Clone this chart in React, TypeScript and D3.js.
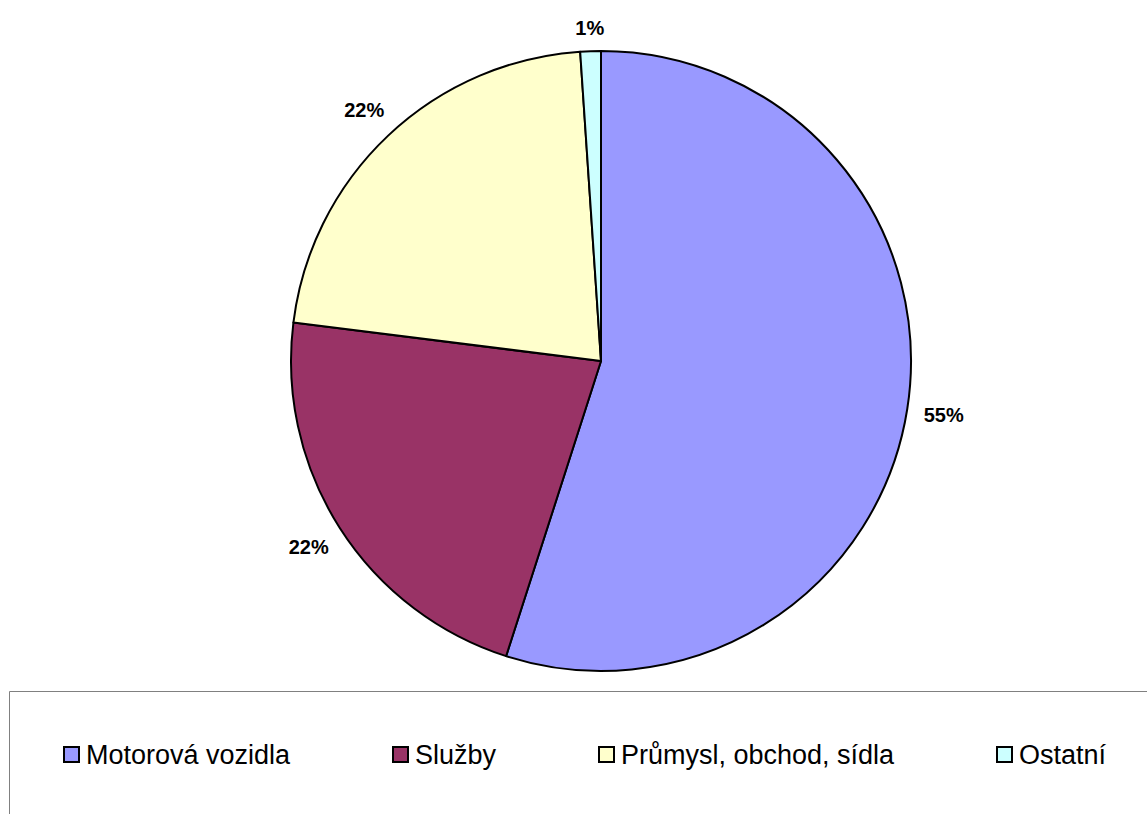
import React from "react";
import * as d3 from "d3";

const categories = ["Motorová vozidla", "Služby", "Průmysl, obchod, sídla", "Ostatní"];
const values = [54.95, 22.03, 21.95, 1.07];
const colors = ["#9999FF", "#993366", "#FFFFCC", "#CCFFFF"];

const W = 1147;
const H = 814;
const cx = 601;
const cy = 361;
const R = 310;
const labelGap = 16;
const labelFont = 20;

const legendX = [63, 392, 598, 996];

export default function App() {
  const data = categories.map((c, i) => ({ name: c, value: values[i], color: colors[i] }));
  const pie = d3.pie<any>().value((d: any) => d.value).sort(null).startAngle(0).endAngle(2 * Math.PI);
  const arcs = pie(data);
  const arcGen = d3.arc<any>().innerRadius(0).outerRadius(R);
  const total = d3.sum(values);
  const font = "'Liberation Sans', Arial, sans-serif";

  return (
    <svg width={W} height={H} style={{ position: "absolute", left: 0, top: 0, background: "#fff" }}>
      <g transform={`translate(${cx},${cy})`}>
        {arcs.map((a, i) => (
          <path key={i} d={arcGen(a) as string} fill={a.data.color} stroke="#000" strokeWidth={2} strokeLinejoin="round" />
        ))}
        {arcs.map((a, i) => {
          const mid = (a.startAngle + a.endAngle) / 2;
          const ux = Math.sin(mid);
          const uy = -Math.cos(mid);
          const txt = `${Math.round((a.data.value / total) * 100)}%`;
          const hw = (txt.length - 1) * 0.556 * labelFont / 2 + 0.889 * labelFont / 2;
          const hh = 0.716 * labelFont / 2;
          const dist = R + labelGap + hw * Math.abs(ux) + hh * Math.abs(uy);
          return (
            <text key={"l" + i} x={ux * dist} y={uy * dist} textAnchor="middle" dominantBaseline="central"
              fontFamily={font} fontWeight="bold" fontSize={labelFont} fill="#000">
              {txt}
            </text>
          );
        })}
      </g>
      <g>
        <line x1={9.5} y1={691.5} x2={W} y2={691.5} stroke="#808080" strokeWidth={1} />
        <line x1={9.5} y1={691.5} x2={9.5} y2={H} stroke="#808080" strokeWidth={1} />
        {categories.map((c, i) => (
          <g key={"lg" + i}>
            <rect x={legendX[i] + 1} y={747} width={15} height={15} fill={colors[i]} stroke="#000" strokeWidth={2} />
            <text x={legendX[i] + 23} y={764} fontFamily={font} fontSize={27} fill="#000">{c}</text>
          </g>
        ))}
      </g>
    </svg>
  );
}
